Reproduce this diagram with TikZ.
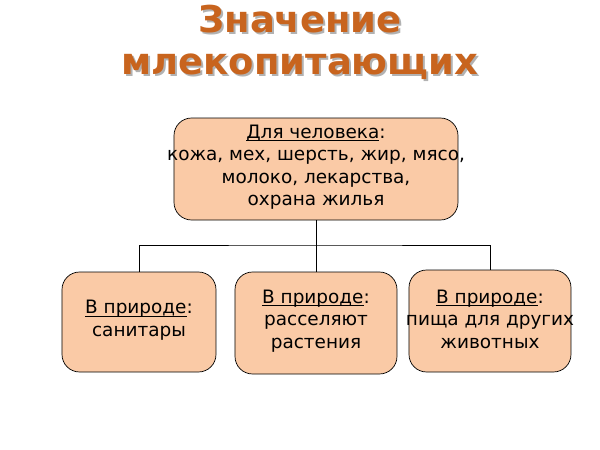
\documentclass[tikz,border=0pt]{standalone}
\usepackage{fontspec}
\setmainfont{DejaVu Sans}
\usetikzlibrary{positioning}
\definecolor{peach}{HTML}{FACAA6}
\definecolor{titlecol}{HTML}{C8641E}
\newcommand{\ul}[1]{\underline{\smash{#1}}}
\tikzset{
  box/.style={draw, fill=peach, rounded corners=10pt, align=center, font=\fontsize{10.5}{12.8}\selectfont},
  title/.style={font=\fontsize{21}{24}\selectfont\bfseries, align=center}
}
\begin{document}
\begin{tikzpicture}[x=0.02cm,y=-0.02cm]
  \useasboundingbox (0,0) rectangle (600,450);
  % title
  \node[title, text=gray!60] at (302,44) {Значение\\млекопитающих};
  \node[title, text=titlecol] (T) at (300,42) {Значение\\млекопитающих};
  % boxes
  \draw[box] (174,118) rectangle (458,220);
  \node[box, draw=none, fill=none] (H) at (316,169) {\ul{Для человека}:\\кожа, мех, шерсть, жир, мясо,\\молоко, лекарства,\\охрана жилья};
  \draw[box] (62,272) rectangle (216,372);
  \node[box, draw=none, fill=none] (A) at (139,322) {\ul{В природе}:\\санитары};
  \draw[box] (235,272) rectangle (397,374);
  \node[box, draw=none, fill=none] (B) at (316,323) {\ul{В природе}:\\расселяют\\растения};
  \draw[box] (409,270) rectangle (571,372);
  \node[box, draw=none, fill=none] (C) at (490,321) {\ul{В природе}:\\пища для других\\животных};
  % connectors
  \coordinate (top) at (316,220);
  \coordinate (mid) at (316,245);
  \draw (top) -- (mid);
  \draw (139,272) |- (mid) -| (490,270);
  \draw (mid) -- (316,272);
\end{tikzpicture}
\end{document}
